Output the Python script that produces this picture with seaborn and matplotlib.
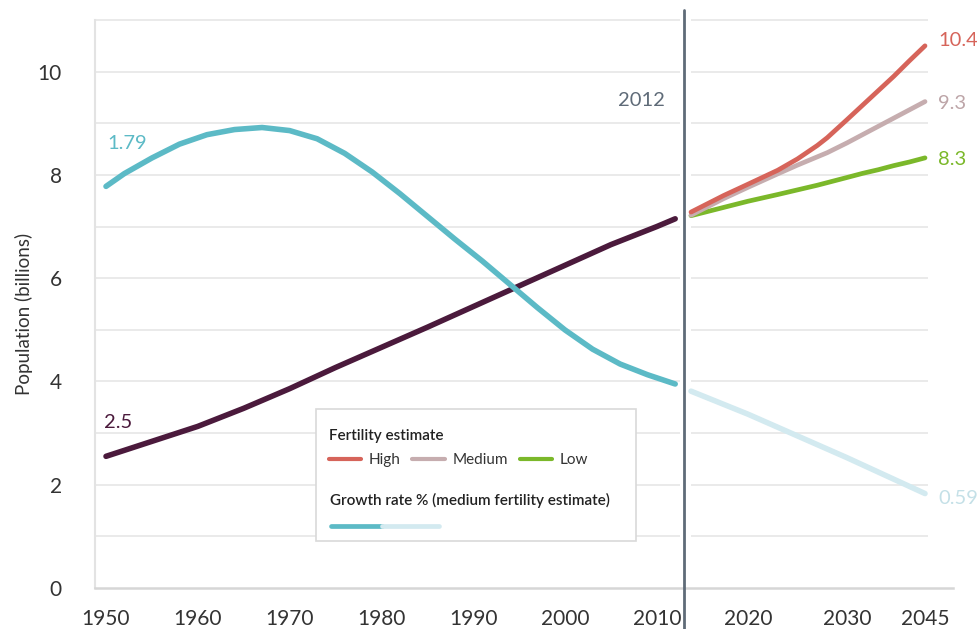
import numpy as np
import pandas as pd
import matplotlib
matplotlib.use('Agg')
import matplotlib.pyplot as plt
from matplotlib.lines import Line2D
from matplotlib.patches import Rectangle
import seaborn as sns

# world population, billions (1950-2012)
hist_years = [1950, 1955, 1960, 1965, 1970, 1975, 1980, 1985, 1990, 1995, 2000, 2005, 2010, 2012]
population = [2.55, 2.84, 3.13, 3.48, 3.86, 4.27, 4.66, 5.05, 5.45, 5.85, 6.25, 6.65, 7.00, 7.15]

# growth rate %, medium fertility estimate
gr_years = [1950, 1952, 1955, 1958, 1961, 1964, 1967, 1970, 1973, 1976, 1979, 1982,
            1985, 1988, 1991, 1994, 1997, 2000, 2003, 2006, 2009, 2012]
growth = [1.790, 1.840, 1.901, 1.955, 1.992, 2.012, 2.020, 2.008, 1.976, 1.919, 1.846, 1.762,
          1.673, 1.584, 1.498, 1.407, 1.316, 1.229, 1.154, 1.096, 1.054, 1.018]
proj_gr_years = [2013, 2020, 2030, 2045]
proj_growth = [0.99, 0.90, 0.73, 0.59]

# projections by fertility estimate, billions
proj_years = [2013, 2017, 2020, 2023, 2025, 2027, 2028, 2030, 2033, 2036, 2039, 2042, 2045]
high = [7.28, 7.60, 7.82, 8.09, 8.31, 8.57, 8.72, 9.07, 9.35, 9.63, 9.91, 10.21, 10.50]
medium = [7.22, 7.54, 7.76, 8.02, 8.19, 8.35, 8.43, 8.62, 8.78, 8.94, 9.10, 9.26, 9.42]
low = [7.21, 7.37, 7.49, 7.62, 7.71, 7.80, 7.85, 7.95, 8.03, 8.10, 8.18, 8.25, 8.33]

tick_years = [1950, 1960, 1970, 1980, 1990, 2000, 2010, 2020, 2030, 2045]

# broken x axis: the projection part has its own spacing
knot_years = [1940, 2012, 2013, 2020, 2030, 2045, 2060]
knot_pos = [14.2, 675.2, 691, 748, 847, 925, 1003]

def fwd(x):
    return np.interp(x, knot_years, knot_pos)

def inv(p):
    return np.interp(p, knot_pos, knot_years)

c_pop = '#4b1a3c'
c_gr = '#5cbac6'
c_gr2 = '#d3eaf0'
c_high = '#d6645a'
c_med = '#c6adaf'
c_low = '#7bb82a'
c_2012 = '#5f6b78'
txt = '#333333'

sns.set_style('white')
plt.rcParams['font.family'] = ['Lato', 'DejaVu Sans']

fig = plt.figure(figsize=(9.78, 6.29), dpi=100)
ax = fig.add_axes([95/978, 1-588/629, 858/978, 568/629])
ax.set_xscale('function', functions=(fwd, inv))
x0, x1 = float(inv(95)), float(inv(953))

sns.lineplot(x=hist_years, y=population, ax=ax, color=c_pop, linewidth=4, solid_capstyle='round')

n = len(proj_years)
proj = pd.DataFrame({'year': proj_years * 3,
                     'pop': high + medium + low,
                     'scenario': ['High'] * n + ['Medium'] * n + ['Low'] * n})
sns.lineplot(data=proj, x='year', y='pop', hue='scenario', ax=ax, legend=False,
             palette={'High': c_high, 'Medium': c_med, 'Low': c_low},
             hue_order=['Low', 'Medium', 'High'], linewidth=3.4, solid_capstyle='round')

ax.set_xlim(x0, x1)
ax.set_ylim(0, 11)

# gridlines with a gap at 2012
ax.hlines(range(1, 12), x0, 2012.3, color='#e8e8e8', lw=1.3, zorder=0.5, clip_on=False)
ax.hlines(range(1, 12), 2013, 2045.6, color='#e8e8e8', lw=1.3, zorder=0.5, clip_on=False)
ax.axvline(2012.55, ymin=-0.072, ymax=1.018, color=c_2012, lw=2, clip_on=False, zorder=3)

for s in ['top', 'right']:
    ax.spines[s].set_visible(False)
ax.spines['bottom'].set_color('#d6d6d6')
ax.spines['bottom'].set_linewidth(1.8)
ax.spines['left'].set_color('#e3e3e3')
ax.spines['left'].set_linewidth(1.5)

ax.set_xticks(tick_years)
ax.set_xticklabels([str(y) for y in tick_years])
ax.set_yticks(range(0, 11, 2))
ax.tick_params(axis='x', length=0, pad=15, labelsize=15, labelcolor=txt)
ax.tick_params(axis='y', length=0, pad=24, labelsize=15, labelcolor=txt)
ax.set_xlabel('')
ax.set_ylabel('Population (billions)', fontsize=13.5, color=txt)
ax.yaxis.set_label_coords(-0.072, 0.483)

# growth rate on a hidden second scale
ax2 = ax.twinx()
sns.lineplot(x=gr_years, y=growth, ax=ax2, color=c_gr, linewidth=4, solid_capstyle='round')
sns.lineplot(x=proj_gr_years, y=proj_growth, ax=ax2, color=c_gr2, linewidth=4, solid_capstyle='round')
ax2.set_ylim(0.221, 2.440)
ax2.set_xlim(x0, x1)
ax2.axis('off')

# value labels
fs = 14.5
ax2.annotate(f'{growth[0]:.2f}', (gr_years[0], growth[0]), xytext=(0.7, 31), textcoords='offset points',
             ha='left', va='center', fontsize=fs, color=c_gr)
ax2.annotate(f'{proj_growth[-1]}', (proj_gr_years[-1], proj_growth[-1]), xytext=(9.5, -3.5),
             textcoords='offset points', ha='left', va='center', fontsize=fs, color='#c4e0e7')
ax.annotate('2.5', (hist_years[0], population[0]), xytext=(-1.4, 24.5), textcoords='offset points',
            ha='left', va='center', fontsize=fs, color=c_pop)
ax.annotate('2012', (2012.55, 9.45), xytext=(-13.7, 0), textcoords='offset points',
            ha='right', va='center', fontsize=fs, color=c_2012)
for vals, lab, col, dy in [(high, '10.4', c_high, 3.6), (medium, '9.3', '#bda5a8', -1.2),
                           (low, '8.3', c_low, -1.1)]:
    ax.annotate(lab, (proj_years[-1], vals[-1]), xytext=(9.5, dy), textcoords='offset points',
                ha='left', va='center', fontsize=fs, color=col)

# legend box
box = Rectangle((316/978, 1-541/629), 320/978, 132/629, transform=fig.transFigure,
                facecolor='white', edgecolor='#d9d9d9', lw=1.2, zorder=4, clip_on=False)
ax2.add_artist(box)
handles = [Line2D([], [], color=c, lw=3) for c in [c_high, c_med, c_low]]
leg = ax2.legend(handles, ['High', 'Medium', 'Low'], title='Fertility estimate', ncol=3,
                 loc='upper left', bbox_to_anchor=(321/978, 1-421/629), bbox_transform=fig.transFigure,
                 frameon=False, fontsize=11, borderpad=0, handlelength=2.1, handletextpad=0.5,
                 columnspacing=0.8, labelspacing=0.7, alignment='left',
                 title_fontproperties={'weight': 'semibold', 'size': 11})
leg.set_zorder(5)
for t in leg.get_texts():
    t.set_color(txt)
leg.get_title().set_color('#222222')
ax2.text(330/978, 1-500/629, 'Growth rate % (medium fertility estimate)', transform=fig.transFigure,
         ha='left', va='center', fontsize=11, fontweight='semibold', color='#222222', zorder=6)
for xa, xb, c in [(331, 382, c_gr), (382, 439, c_gr2)]:
    ax2.add_artist(Line2D([xa/978, xb/978], [1-525.7/629] * 2, transform=fig.transFigure,
                          color=c, lw=3.4, zorder=6, clip_on=False))

fig.savefig('out.png', dpi=100)
